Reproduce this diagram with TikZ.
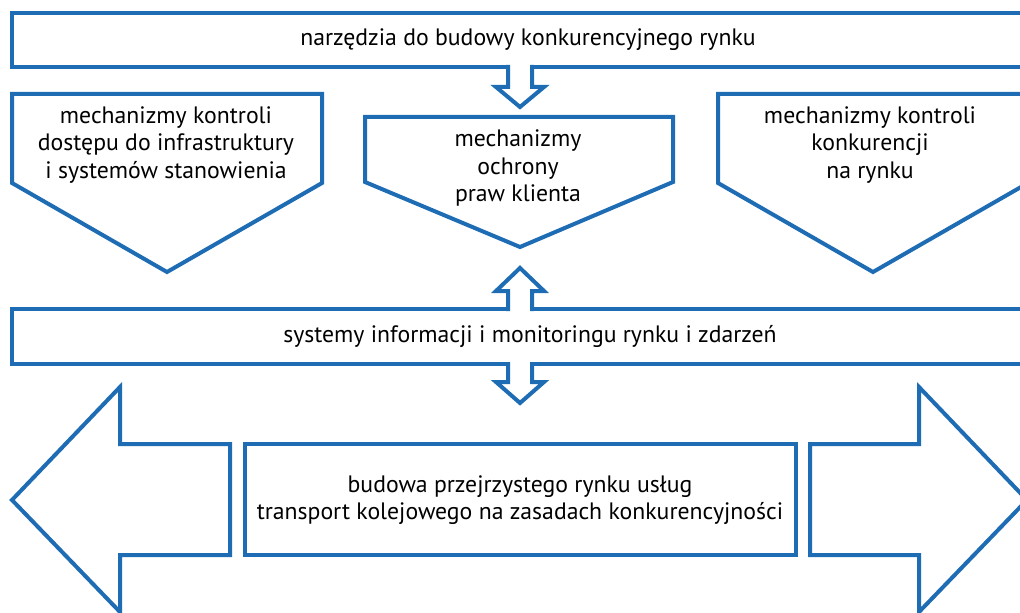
\documentclass[tikz,border=0pt]{standalone}
\usepackage{fontspec}
\setmainfont{PT Sans}
\usetikzlibrary{positioning}
\definecolor{schemablue}{RGB}{30,108,180}
\tikzset{
  blockline/.style={draw=schemablue,line width=3pt,fill=white,line join=miter},
  blockedge/.style={draw=schemablue,line width=3pt,line join=miter},
  boxtext/.style={align=center,font=\fontsize{17.8}{20.8}\selectfont},
}
\begin{document}
\begin{tikzpicture}[x=0.75pt,y=-0.75pt]
  \useasboundingbox (0,0) rectangle (1020,613);
  \clip (0,0) rectangle (1020,613);

  % narzedzia
  \draw[blockline] (12,13) rectangle (1040,67);
  \node[boxtext] (tools) at (528,40) {narzędzia do budowy konkurencyjnego rynku};
  \fill[white] (508,63) -- (508,87) -- (496,87) -- (520,107) -- (544,87) -- (532,87) -- (532,63) -- cycle;
  \draw[blockedge] (508,65) -- (508,87) -- (496,87) -- (520,107) -- (544,87) -- (532,87) -- (532,65);

  % mechanizmy
  \draw[blockline] (12,94) -- (322,94) -- (322,183) -- (167,272) -- (12,183) -- cycle;
  \node[boxtext] (access) at (166,145) {mechanizmy kontroli\\dostępu do infrastruktury\\i systemów stanowienia};

  \draw[blockline] (365,117) -- (673,117) -- (673,182) -- (520,247) -- (365,182) -- cycle;
  \node[boxtext] (rights) at (518,168) {mechanizmy\\ochrony\\praw klienta};

  \draw[blockline] (718,94) -- (1028,94) -- (1028,183) -- (873,272) -- (718,183) -- cycle;
  \node[boxtext] (competition) at (870,145) {mechanizmy kontroli\\konkurencji\\na rynku};

  % systemy informacji
  \draw[blockline] (12,309) rectangle (1040,364);
  \node[boxtext] (monitoring) at (530,336) {systemy informacji i monitoringu rynku i zdarzeń};
  \fill[white] (508,313) -- (508,291) -- (496,291) -- (520,268) -- (544,291) -- (532,291) -- (532,313) -- cycle;
  \draw[blockedge] (508,311) -- (508,291) -- (496,291) -- (520,268) -- (544,291) -- (532,291) -- (532,311);
  \fill[white] (508,360) -- (508,382) -- (496,382) -- (520,403) -- (544,382) -- (532,382) -- (532,360) -- cycle;
  \draw[blockedge] (508,362) -- (508,382) -- (496,382) -- (520,403) -- (544,382) -- (532,382) -- (532,362);

  % budowa rynku
  \draw[blockline] (12,500) -- (120,387) -- (120,444) -- (230,444) -- (230,555) -- (120,555) -- (120,612) -- cycle;
  \draw[blockline] (245,444) rectangle (796,555);
  \node[boxtext] (market) at (520,500) {budowa przejrzystego rynku usług\\transport kolejowego na zasadach konkurencyjności};
  \draw[blockline] (810,444) -- (919,444) -- (919,387) -- (1027,500) -- (919,612) -- (919,555) -- (810,555) -- cycle;

\end{tikzpicture}
\end{document}
